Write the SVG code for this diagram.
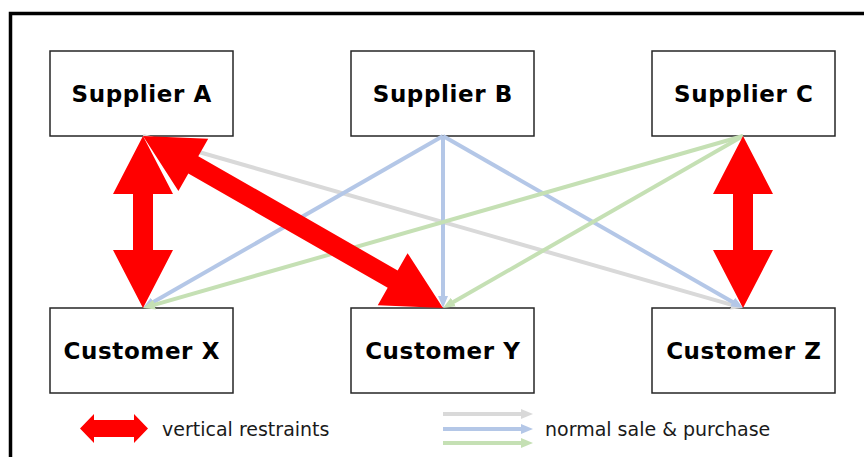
<svg xmlns="http://www.w3.org/2000/svg" width="864" height="457" viewBox="0 0 864 457">
<style>
.box{fill:#fff;stroke:#262626;stroke-width:1.5}
.lbl{font-family:"DejaVu Sans",Verdana,sans-serif;font-weight:bold;font-size:23px;letter-spacing:0.6px;fill:#000;text-anchor:middle}
.leg{font-family:"DejaVu Sans",Verdana,sans-serif;font-size:19px;fill:#1a1a1a}
.g{stroke:#D9D9D9;stroke-width:4;fill:none}
.b{stroke:#B4C7E7;stroke-width:4;fill:none}
.gr{stroke:#C5E0B4;stroke-width:4;fill:none}
.red{fill:#FF0000}
</style>
<defs>
<marker id="mg" markerWidth="3" markerHeight="2.5" refX="1" refY="1.25" orient="auto" markerUnits="strokeWidth"><path d="M0,0 L3,1.25 L0,2.5 z" fill="#D9D9D9"/></marker>
<marker id="mb" markerWidth="3" markerHeight="2.5" refX="1" refY="1.25" orient="auto" markerUnits="strokeWidth"><path d="M0,0 L3,1.25 L0,2.5 z" fill="#B4C7E7"/></marker>
<marker id="mgr" markerWidth="3" markerHeight="2.5" refX="1" refY="1.25" orient="auto" markerUnits="strokeWidth"><path d="M0,0 L3,1.25 L0,2.5 z" fill="#C5E0B4"/></marker>
<polygon id="dbl" points="0,0 58,-30 58,-10 287.8,-10 287.8,-30 345.8,0 287.8,30 287.8,10 58,10 58,30"/>
</defs>
<rect width="864" height="457" fill="#fff"/>
<path d="M10.5,457 L10.5,13.5 L864,13.5" fill="none" stroke="#000" stroke-width="3.5"/>
<g id="nodes">
<g id="supplierA"><rect class="box" x="50" y="51" width="183" height="85"/><text class="lbl" x="141.8" y="102">Supplier A</text></g>
<g id="supplierB"><rect class="box" x="351" y="51" width="183" height="85"/><text class="lbl" x="442.8" y="102">Supplier B</text></g>
<g id="supplierC"><rect class="box" x="652" y="51" width="183" height="85"/><text class="lbl" x="743.8" y="102">Supplier C</text></g>
<g id="customerX"><rect class="box" x="50" y="308" width="183" height="85"/><text class="lbl" x="141.8" y="359">Customer X</text></g>
<g id="customerY"><rect class="box" x="351" y="308" width="183" height="85"/><text class="lbl" x="442.8" y="359">Customer Y</text></g>
<g id="customerZ"><rect class="box" x="652" y="308" width="183" height="85"/><text class="lbl" x="743.8" y="359">Customer Z</text></g>
</g>
<g id="connectors">
<path class="g" d="M143,136 L735.3,305.8" marker-end="url(#mg)"/>
<path class="b" d="M443,136 L149.9,304" marker-end="url(#mb)"/>
<path class="b" d="M443,136 L443,300" marker-end="url(#mb)"/>
<path class="b" d="M443,136 L736.1,304" marker-end="url(#mb)"/>
<path class="gr" d="M743,136 L150.7,305.8" marker-end="url(#mgr)"/>
<path class="gr" d="M743,136 L449.9,304" marker-end="url(#mgr)"/>
<polygon class="red" points="143,136 173,194 153,194 153,250 173,250 143,308 113,250 133,250 133,194 113,194"/>
<polygon class="red" points="743,136 773,194 753,194 753,250 773,250 743,308 713,250 733,250 733,194 713,194"/>
<use href="#dbl" class="red" transform="translate(143,136) rotate(29.83)"/>
</g>
<g id="legend">
<polygon class="red" points="80,428.5 94,414 94,420 134,420 134,414 148,428.5 134,443 134,437 94,437 94,443"/>
<text class="leg" x="162" y="436">vertical restraints</text>
<path class="g" d="M443,414 L525,414" marker-end="url(#mg)"/>
<path class="b" d="M443,429 L525,429" marker-end="url(#mb)"/>
<path class="gr" d="M443,443 L525,443" marker-end="url(#mgr)"/>
<text class="leg" x="545" y="436">normal sale &amp; purchase</text>
</g>
</svg>
